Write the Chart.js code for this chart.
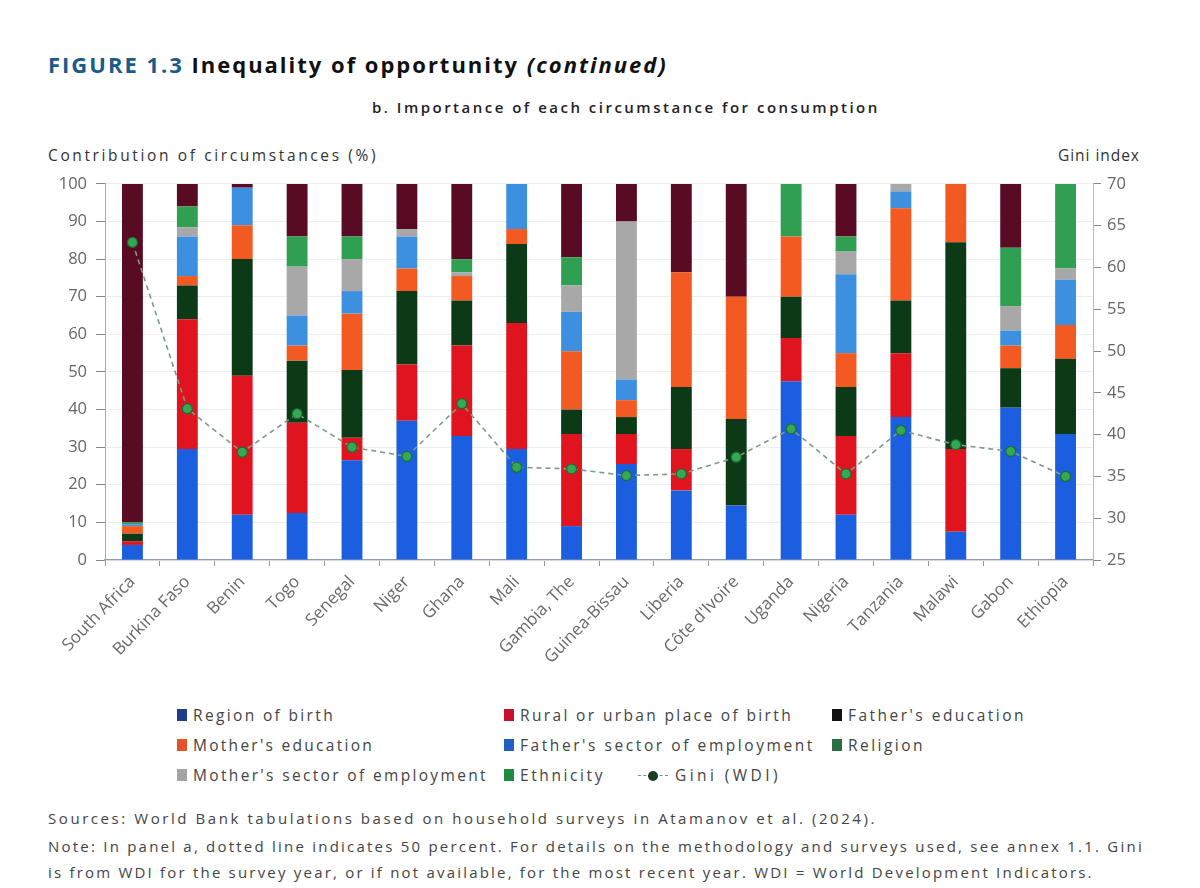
<!DOCTYPE html>
<html><head><meta charset="utf-8">
<script src="https://cdn.jsdelivr.net/npm/chart.js@4.4.1/dist/chart.umd.min.js"></script>
<style>
body{margin:0;width:1200px;height:888px;background:#fff;font-family:'Open Sans',sans-serif;position:relative;overflow:hidden;color:#333}
.t{position:absolute;white-space:nowrap}
.lg{position:absolute;white-space:nowrap;font-size:15.5px;color:#444;line-height:20px}
.sw{position:absolute;width:10px;height:12px;top:4px}
#wrap{position:absolute;left:0;top:165px;width:1200px;height:535px}
.n{font-size:15px;color:#444}
</style></head><body>
<div class="t fit" data-w="620" style="left:48px;top:49px;font-size:22px;font-weight:700;color:#111"><span style="color:#1a5b8c">FIGURE 1.3</span> Inequality of opportunity <i>(continued)</i></div>
<div class="t fit" data-w="508" style="left:372px;top:97px;font-size:15px;font-weight:600;color:#222">b. Importance of each circumstance for consumption</div>
<div class="t fit" data-w="330" style="left:48px;top:144px;font-size:15.5px;color:#333">Contribution of circumstances (%)</div>
<div class="t fit" data-w="82" style="left:1058px;top:144px;font-size:15.5px;color:#333">Gini index</div>
<div id="wrap"><canvas id="c"></canvas></div>

<span class="sw" style="left:177px;top:709px;background:#1d3f8a"></span><div class="lg fit" data-w="142" style="left:193px;top:705px">Region of birth</div>
<span class="sw" style="left:504px;top:709px;background:#c8102e"></span><div class="lg fit" data-w="273" style="left:520px;top:705px">Rural or urban place of birth</div>
<span class="sw" style="left:832px;top:709px;background:#111"></span><div class="lg fit" data-w="178" style="left:848px;top:705px">Father's education</div>
<span class="sw" style="left:177px;top:739px;background:#e8502a"></span><div class="lg fit" data-w="181" style="left:193px;top:735px">Mother's education</div>
<span class="sw" style="left:504px;top:739px;background:#2060c0"></span><div class="lg fit" data-w="295" style="left:520px;top:735px">Father's sector of employment</div>
<span class="sw" style="left:832px;top:739px;background:#2a6e45"></span><div class="lg fit" data-w="77" style="left:848px;top:735px">Religion</div>
<span class="sw" style="left:177px;top:769px;background:#a3a3a3"></span><div class="lg fit" data-w="295" style="left:193px;top:765px">Mother's sector of employment</div>
<span class="sw" style="left:504px;top:769px;background:#1f8a3c"></span><div class="lg fit" data-w="85" style="left:520px;top:765px">Ethnicity</div>
<span style="position:absolute;left:638px;top:775px;width:30px;border-top:1.5px dashed #888"></span>
<span style="position:absolute;left:648px;top:771px;width:10px;height:10px;border-radius:50%;background:#1e3a28"></span>
<div class="lg fit" data-w="106" style="left:675px;top:765px">Gini (WDI)</div>

<div class="t n fit" data-w="829" style="left:48px;top:808px">Sources: World Bank tabulations based on household surveys in Atamanov et al. (2024).</div>
<div class="t n fit" data-w="1096" style="left:48px;top:836px">Note: In panel a, dotted line indicates 50 percent. For details on the methodology and surveys used, see annex 1.1. Gini</div>
<div class="t n fit" data-w="1046" style="left:48px;top:862px">is from WDI for the survey year, or if not available, for the most recent year. WDI = World Development Indicators.</div>

<script>
const categories = ['South Africa','Burkina Faso','Benin','Togo','Senegal','Niger','Ghana','Mali','Gambia, The','Guinea-Bissau','Liberia',"Côte d'Ivoire",'Uganda','Nigeria','Tanzania','Malawi','Gabon','Ethiopia'];
const regionOfBirth = [4,29.5,12,12.5,26.5,37,33,29.5,9,25.5,18.5,14.5,47.5,12,38,7.5,40.5,33.5];
const ruralUrban    = [1,34.5,37,24,6,15,24,33.5,24.5,8,11,0,11.5,21,17,22,0,0];
const fatherEdu     = [2,9,31,16.5,18,19.5,12,21,6.5,4.5,16.5,23,11,13,14,55,10.5,20];
const motherEdu     = [2,2.5,9,4,15,6,6.5,4,15.5,4.5,30.5,32.5,16,9,24.5,15.5,6,9];
const fatherSector  = [0.5,10.5,10,8,6,8.5,0,12,10.5,5.5,0,0,0,21,4.5,0,4,12];
const motherSector  = [0,2.5,0,13,8.5,2,1,0,7,42,0,0,0,6,2,0,6.5,3];
const religion      = [0.5,5.5,0,8,6,0,3.5,0,7.5,0,0,0,14,4,0,0,15.5,22.5];
const ethnicity     = [90,6,1,14,14,12,20,0,19.5,10,23.5,30,0,14,0,0,17,0];
const gini          = [63,43.1,37.9,42.5,38.5,37.4,43.7,36.1,35.9,35.1,35.3,37.3,40.7,35.3,40.5,38.8,38.0,35.0];
const leftTicks = [0,10,20,30,40,50,60,70,80,90,100];
const rightTicks = [25,30,35,40,45,50,55,60,65,70];

// stretch HTML texts to the widths seen in the reference
document.querySelectorAll('.fit').forEach(el=>{
  const target = +el.dataset.w;
  el.style.letterSpacing = '0px';
  const w = el.getBoundingClientRect().width;
  const n = el.textContent.length;
  el.style.letterSpacing = ((target - w) / n).toFixed(2) + 'px';
});

Chart.defaults.font.family = "'Open Sans', sans-serif";
Chart.defaults.color = '#555';

function bar(label, data, color){
  return {type:'bar', label, data, backgroundColor:color, yAxisID:'y', stack:'s', order:1,
          barPercentage:0.38, categoryPercentage:1.0, borderWidth:0};
}

new Chart(document.getElementById('c'), {
  data: {
    labels: categories,
    datasets: [
      {type:'line', label:'Gini (WDI)', data:gini, yAxisID:'y2', order:0,
       borderColor:'#7d9a88', borderWidth:1.6, borderDash:[5,4], fill:false, tension:0,
       pointRadius:5, pointBackgroundColor:'#34a853', pointBorderColor:'#1e6b36', pointBorderWidth:1.2},
      bar('Region of birth', regionOfBirth, '#1b5fe0'),
      bar('Rural or urban place of birth', ruralUrban, '#e0141e'),
      bar("Father's education", fatherEdu, '#0c3a17'),
      bar("Mother's education", motherEdu, '#f25a22'),
      bar("Father's sector of employment", fatherSector, '#3d8fe0'),
      bar("Mother's sector of employment", motherSector, '#a8a8a8'),
      bar('Religion', religion, '#2fa052'),
      bar('Ethnicity', ethnicity, '#5a0b24')
    ]
  },
  options: {
    responsive:true, maintainAspectRatio:false, animation:false,
    layout:{padding:{top:13,left:0,right:0,bottom:0}},
    plugins:{legend:{display:false}, tooltip:{enabled:false}},
    scales:{
      x:{stacked:true,
         grid:{offset:true, drawOnChartArea:false, tickLength:6, tickColor:'#999'},
         border:{color:'#8f9cb8', width:1.2},
         ticks:{autoSkip:false, maxRotation:46, minRotation:46, font:{size:17}, color:'#6a6a6a', padding:6},
         afterFit:(s)=>{s.height=140;}},
      y:{stacked:true, position:'left', min:0, max:100,
         afterBuildTicks:(s)=>{s.ticks = leftTicks.map(v=>({value:v}));},
         grid:{color:'#efefef', tickColor:'#888', tickLength:9},
         border:{color:'#aaa', width:1},
         ticks:{font:{size:16.5}, color:'#666', padding:9},
         afterFit:(s)=>{s.width=105;}},
      y2:{position:'right', min:25, max:70,
         afterBuildTicks:(s)=>{s.ticks = rightTicks.map(v=>({value:v}));},
         grid:{drawOnChartArea:false, tickColor:'#888', tickLength:8},
         border:{color:'#bbb', width:1},
         ticks:{font:{size:16.5}, color:'#666', padding:6},
         afterFit:(s)=>{s.width=107;}}
    }
  }
});
</script>
</body></html>
